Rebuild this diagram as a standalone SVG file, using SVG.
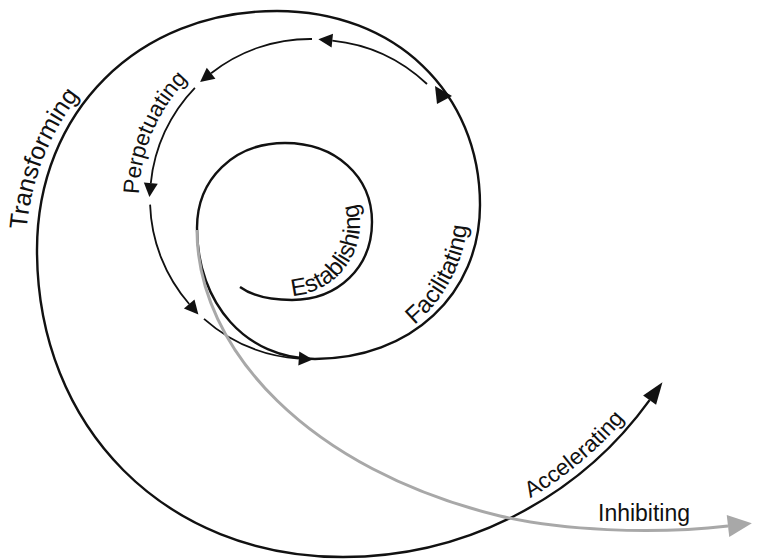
<svg xmlns="http://www.w3.org/2000/svg" width="760" height="559" viewBox="0 0 760 559">
  <style>
    .spiral { fill: none; stroke: #111; stroke-width: 2.4; stroke-linecap: butt; }
    .cycle { fill: none; stroke: #111; stroke-width: 1.8; }
    .inhibit { fill: none; stroke: #a8a8a8; stroke-width: 3; }
    .lbl { font-family: "Liberation Sans", Arial, sans-serif; font-size: 22.5px; fill: #111; }
    .big { font-size: 24px; }
  </style>
  <defs>
    <marker id="head" markerUnits="userSpaceOnUse" markerWidth="16" markerHeight="16" viewBox="0 -8 16 16" refX="0" refY="0" orient="auto" overflow="visible">
      <path d="M0,-7 L14,0 L0,7 z" fill="#111"/>
    </marker>
    <marker id="headBig" markerUnits="userSpaceOnUse" markerWidth="24" markerHeight="20" viewBox="0 -10 24 20" refX="0" refY="0" orient="auto" overflow="visible">
      <path d="M0,-8 L22,0 L0,8 z" fill="#111"/>
    </marker>
    <marker id="headGray" markerUnits="userSpaceOnUse" markerWidth="26" markerHeight="26" viewBox="0 -13 26 26" refX="0" refY="0" orient="auto" overflow="visible">
      <path d="M0,-11 L24,0 L0,11 z" fill="#a8a8a8"/>
    </marker>
    <!-- baselines for the curved labels -->
    <path id="tp-transform" d="M31.2,302.4 A251,251 0 0,1 132.1,45.4"/>
    <path id="tp-perpet" d="M142.7,234.6 A171,171 0 0,1 219.4,54"/>
    <path id="tp-establish" d="M269.4,293.5 A72,72 0 0,0 347,182.7"/>
    <path id="tp-facil" d="M386.1,343.6 A150,150 0 0,0 466.9,191.7"/>
    <path id="tp-accel" d="M469.5,526.7 A370,370 0 0,0 663.4,364"/>
  </defs>

  <g id="connectors">
    <!-- main spiral, from the inner start outward -->
    <path class="spiral" marker-end="url(#headBig)" d="M240,287 C255,298 275,300 292,300
      C338.4,300 372,267.2 372,222
      C372,176.2 335.5,143 285,143
      C234,143 197,178.7 197,228
      C197,304 246.6,359 315,359
      C410.7,359 480,294.3 480,205
      C480,92.5 394.7,11 277,11
      C137.8,11 37,111.4 37,250
      C37,428 165.5,557 343,557
      A378,378 0 0,0 649.6,400.1"/>
    <!-- arrowhead on the spiral's right side -->
    <polygon points="435,86 437,104 452,96" fill="#111"/>
    <!-- recurring cycle -->
    <path class="cycle" marker-end="url(#head)" d="M427,84 A162,162 0 0,0 332.3,40.6"/>
    <path class="cycle" marker-end="url(#head)" d="M312,39 A160,160 0 0,0 211.1,73.3"/>
    <path class="cycle" marker-end="url(#head)" d="M194.9,87.8 A160,160 0 0,0 150.8,183.1"/>
    <path class="cycle" marker-end="url(#head)" d="M150.1,204.6 A160,160 0 0,0 189.2,304"/>
    <path class="cycle" marker-end="url(#head)" d="M204,318.8 A160,160 0 0,0 298.8,358.6"/>
    <!-- inhibiting branch -->
    <path class="inhibit" marker-end="url(#headGray)" d="M197,230 C197,350 310,470 500,516 C560,530 650,535 728,526"/>
  </g>

  <g id="establishing">
    <text class="lbl big"><textPath href="#tp-establish" startOffset="50%" text-anchor="middle">Establishing</textPath></text>
  </g>
  <g id="facilitating">
    <text class="lbl big"><textPath href="#tp-facil" startOffset="50%" text-anchor="middle">Facilitating</textPath></text>
  </g>
  <g id="perpetuating">
    <text class="lbl"><textPath href="#tp-perpet" startOffset="50%" text-anchor="middle">Perpetuating</textPath></text>
  </g>
  <g id="transforming">
    <text class="lbl" style="font-size:25px"><textPath href="#tp-transform" startOffset="50%" text-anchor="middle">Transforming</textPath></text>
  </g>
  <g id="accelerating">
    <text class="lbl"><textPath href="#tp-accel" startOffset="50%" text-anchor="middle">Accelerating</textPath></text>
  </g>
  <g id="inhibiting">
    <text class="lbl" x="598" y="521" style="font-size:23px">Inhibiting</text>
  </g>
</svg>
